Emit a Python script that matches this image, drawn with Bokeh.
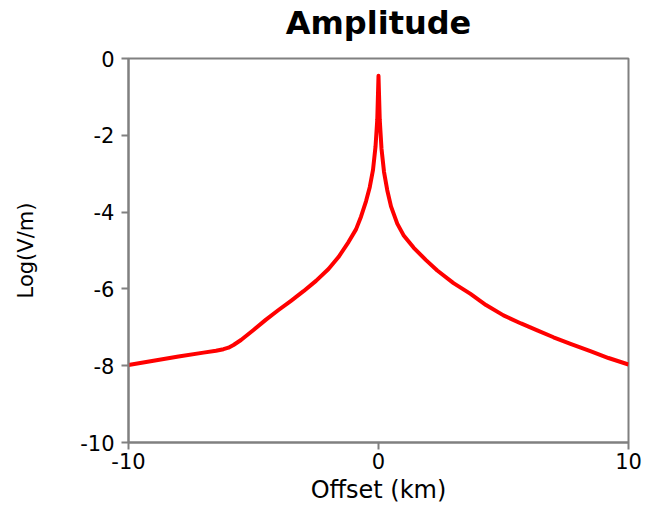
from bokeh.plotting import figure
from bokeh.models import Range1d, FixedTicker, LinearAxis
from bokeh.embed import file_html
from bokeh.resources import INLINE

# Data
offset_km = [-10, -9, -8, -7, -6.5, -6.2, -6.0, -5.8, -5.5, -5.0, -4.5, -4.0, -3.5,
             -3.0, -2.5, -2.0, -1.6, -1.2, -0.9, -0.7, -0.5, -0.35, -0.22, -0.12,
             -0.05, 0,
             0.05, 0.12, 0.22, 0.35, 0.5, 0.75, 1.0, 1.41, 1.9, 2.35, 3.0, 3.68,
             4.3, 5.0, 5.7, 6.35, 7.0, 7.68, 8.5, 9.2, 10]
log_amp = [-7.98, -7.87, -7.76, -7.66, -7.61, -7.57, -7.53, -7.46, -7.33, -7.07, -6.8, -6.55, -6.31,
           -6.06, -5.79, -5.48, -5.17, -4.78, -4.45, -4.12, -3.72, -3.35, -2.9, -2.3,
           -1.6, -0.45,
           -1.6, -2.35, -2.95, -3.43, -3.85, -4.3, -4.6, -4.93, -5.25, -5.52, -5.85, -6.13,
           -6.42, -6.69, -6.9, -7.08, -7.26, -7.43, -7.63, -7.8, -7.97]
x_ticks = [-10, 0, 10]
y_ticks = [0, -2, -4, -6, -8, -10]
title_text = "Amplitude"

FONT = "DejaVu Sans"
GREY = "#808080"

p = figure(width=651, height=507, output_backend="svg", toolbar_location=None,
           x_range=Range1d(-10, 10), y_range=Range1d(-10, 0),
           min_border_left=128, min_border_right=23, min_border_top=58,
           min_border_bottom=65, frame_width=500, frame_height=384)

xb = p.below[0]
yl = p.left[0]

p.line(offset_km, log_amp, line_color="#ff0000", line_width=4, line_join="round")

# title drawn as the label of a bare axis above the frame
top = LinearAxis(ticker=FixedTicker(ticks=[]), axis_label=title_text,
                 axis_line_color=None, major_tick_line_color=None,
                 minor_tick_line_color=None, major_tick_out=0, major_tick_in=0,
                 major_label_text_font_size="0px", major_label_standoff=0,
                 axis_label_standoff=17, axis_label_text_font=FONT,
                 axis_label_text_font_style="bold", axis_label_text_font_size="32px",
                 axis_label_text_color="black")
p.add_layout(top, "above")

p.xgrid.visible = False
p.ygrid.visible = False
p.outline_line_color = GREY
p.outline_line_width = 2
p.background_fill_color = "white"
p.border_fill_color = "white"

for ax in (xb, yl):
    ax.axis_line_color = GREY
    ax.axis_line_width = 2
    ax.major_tick_line_color = GREY
    ax.major_tick_line_width = 2
    ax.major_tick_out = 7
    ax.major_tick_in = 0
    ax.minor_tick_line_color = None
    ax.major_label_text_font = FONT
    ax.major_label_text_font_size = "21px"
    ax.major_label_text_color = "black"
    ax.axis_label_text_font = FONT
    ax.axis_label_text_font_style = "normal"
    ax.axis_label_text_color = "black"

xb.ticker = FixedTicker(ticks=x_ticks)
yl.ticker = FixedTicker(ticks=y_ticks)
xb.major_label_overrides = {t: str(t) for t in x_ticks}
yl.major_label_overrides = {t: str(t) for t in y_ticks}
xb.axis_label = "Offset (km)"
yl.axis_label = "Log(V/m)"
xb.axis_label_text_font_size = "24px"
yl.axis_label_text_font_size = "21px"
xb.major_label_standoff = 3
xb.axis_label_standoff = 4
yl.major_label_standoff = 7
yl.axis_label_standoff = 39

open("out.html", "w").write(file_html(p, INLINE))
